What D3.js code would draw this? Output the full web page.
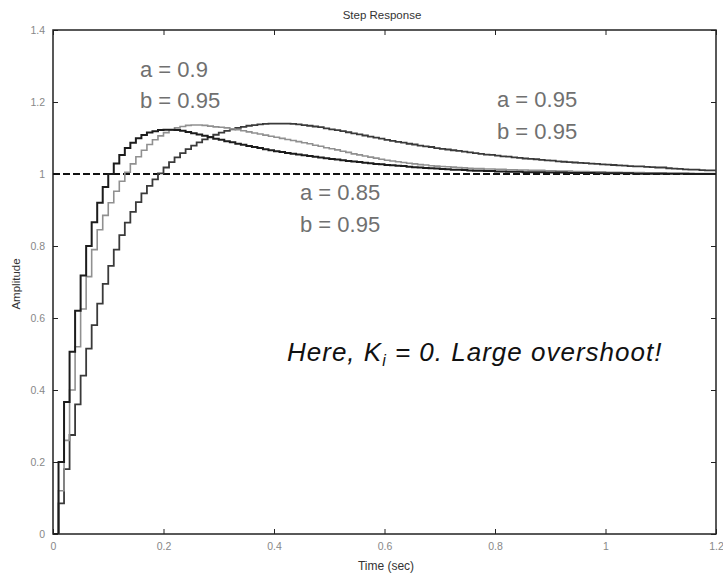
<!DOCTYPE html>
<html lang="en">
<head>
    <meta charset="UTF-8">
    <title>Step Response</title>
    <script src="https://d3js.org/d3.v7.js"></script>
    <style>
        body { margin: 0; background: #fff; }
        text { font-family: "Liberation Sans", Arial, sans-serif; }
        .tick text { fill: #888; font-size: 10.5px; }
        .tick line { stroke: #222; stroke-width: 1px; }
        .domain { display: none; }
        .note { fill: #707070; font-size: 22px; }
    </style>
</head>
<body>
<svg width="723" height="575"></svg>
<script>
    // sample time of the discrete responses (sec)
    const timeStep = 0.01;

    // a = 0.85, b = 0.95 (fastest, black)
    const respA085 = [
        0, 0.200, 0.367, 0.506, 0.620, 0.718, 0.800, 0.866, 0.920, 0.964,
        1.000, 1.029, 1.053, 1.072, 1.087, 1.099, 1.108, 1.115, 1.119, 1.122,
        1.123, 1.123, 1.122, 1.120, 1.117, 1.113, 1.110, 1.106, 1.102, 1.098,
        1.095, 1.091, 1.088, 1.084, 1.081, 1.078, 1.075, 1.072, 1.069, 1.066,
        1.063, 1.061, 1.058, 1.056, 1.054, 1.052, 1.050, 1.048, 1.046, 1.044,
        1.042, 1.040, 1.038, 1.036, 1.035, 1.033, 1.031, 1.030, 1.028, 1.027,
        1.025, 1.024, 1.023, 1.022, 1.020, 1.019, 1.018, 1.017, 1.016, 1.015,
        1.014, 1.013, 1.012, 1.012, 1.011, 1.010, 1.009, 1.009, 1.008, 1.008,
        1.007, 1.007, 1.006, 1.006, 1.006, 1.005, 1.005, 1.005, 1.005, 1.004,
        1.004, 1.004, 1.004, 1.003, 1.003, 1.003, 1.003, 1.003, 1.002, 1.002,
        1.002, 1.002, 1.002, 1.002, 1.002, 1.001, 1.001, 1.001, 1.001, 1.001,
        1.001, 1.001, 1.001, 1.001, 1.001, 1.000, 1.000, 1.000, 1.000, 1.000,
        1.000
    ];

    // a = 0.9, b = 0.95 (grey)
    const respA090 = [
        0, 0.120, 0.260, 0.400, 0.520, 0.625, 0.715, 0.790, 0.845, 0.885,
        0.920, 0.952, 0.980, 1.005, 1.028, 1.048, 1.066, 1.082, 1.095, 1.106,
        1.115, 1.122, 1.128, 1.132, 1.135, 1.136, 1.136, 1.135, 1.133, 1.131,
        1.130, 1.128, 1.125, 1.123, 1.120, 1.117, 1.114, 1.111, 1.108, 1.105,
        1.102, 1.099, 1.096, 1.093, 1.090, 1.087, 1.084, 1.080, 1.077, 1.073,
        1.070, 1.067, 1.063, 1.060, 1.056, 1.053, 1.050, 1.047, 1.044, 1.041,
        1.038, 1.036, 1.034, 1.032, 1.030, 1.028, 1.026, 1.025, 1.023, 1.022,
        1.021, 1.020, 1.019, 1.018, 1.017, 1.016, 1.015, 1.015, 1.014, 1.014,
        1.013, 1.013, 1.012, 1.012, 1.011, 1.011, 1.010, 1.010, 1.010, 1.009,
        1.009, 1.008, 1.008, 1.008, 1.007, 1.007, 1.007, 1.006, 1.006, 1.006,
        1.005, 1.005, 1.005, 1.004, 1.004, 1.004, 1.004, 1.003, 1.003, 1.003,
        1.003, 1.002, 1.002, 1.002, 1.002, 1.002, 1.001, 1.001, 1.001, 1.001,
        1.001
    ];

    // a = 0.95, b = 0.95 (slowest, dark)
    const respA095 = [
        0, 0.085, 0.180, 0.275, 0.360, 0.440, 0.515, 0.580, 0.640, 0.695,
        0.745, 0.790, 0.830, 0.865, 0.895, 0.922, 0.946, 0.967, 0.985, 1.002,
        1.018, 1.033, 1.046, 1.058, 1.069, 1.079, 1.088, 1.096, 1.103, 1.109,
        1.115, 1.120, 1.124, 1.128, 1.131, 1.134, 1.136, 1.138, 1.139, 1.140,
        1.140, 1.140, 1.140, 1.139, 1.138, 1.136, 1.134, 1.132, 1.130, 1.127,
        1.124, 1.122, 1.119, 1.116, 1.113, 1.110, 1.107, 1.104, 1.101, 1.098,
        1.095, 1.092, 1.089, 1.087, 1.084, 1.082, 1.079, 1.077, 1.075, 1.072,
        1.070, 1.068, 1.066, 1.064, 1.062, 1.060, 1.058, 1.056, 1.054, 1.053,
        1.051, 1.049, 1.048, 1.046, 1.045, 1.043, 1.042, 1.041, 1.039, 1.038,
        1.037, 1.035, 1.034, 1.033, 1.032, 1.031, 1.030, 1.029, 1.028, 1.027,
        1.026, 1.025, 1.024, 1.023, 1.022, 1.021, 1.021, 1.020, 1.019, 1.018,
        1.018, 1.016, 1.015, 1.014, 1.013, 1.012, 1.012, 1.011, 1.010, 1.010,
        1.009
    ];

    const referenceLevel = 1;
    const xTicks = [0, 0.2, 0.4, 0.6, 0.8, 1, 1.2];
    const yTicks = [0, 0.2, 0.4, 0.6, 0.8, 1, 1.2, 1.4];

    let svg = d3.select("svg");
    let plotLeft = 53, plotRight = 716, plotTop = 30, plotBottom = 534;

    let x = d3.scaleLinear().domain([0, 1.2]).range([plotLeft, plotRight]);
    let y = d3.scaleLinear().domain([0, 1.4]).range([plotBottom, plotTop]);

    svg.append("clipPath").attr("id", "plotClip")
        .append("rect")
        .attr("x", plotLeft).attr("y", plotTop)
        .attr("width", plotRight - plotLeft).attr("height", plotBottom - plotTop);

    // axes: ticks point inwards on all four sides
    svg.append("g")
        .attr("transform", "translate(0," + plotBottom + ")")
        .call(d3.axisBottom(x).tickValues(xTicks).tickSize(-5).tickPadding(9)
            .tickFormat(d3.format("~g")));
    svg.append("g")
        .attr("transform", "translate(0," + plotTop + ")")
        .call(d3.axisTop(x).tickValues(xTicks).tickSize(-5).tickFormat(""));
    svg.append("g")
        .attr("transform", "translate(" + plotLeft + ",0)")
        .call(d3.axisLeft(y).tickValues(yTicks).tickSize(-5).tickPadding(8)
            .tickFormat(d3.format("~g")));
    svg.append("g")
        .attr("transform", "translate(" + plotRight + ",0)")
        .call(d3.axisRight(y).tickValues(yTicks).tickSize(-5).tickFormat(""));

    // frame
    svg.append("rect")
        .attr("x", plotLeft).attr("y", plotTop)
        .attr("width", plotRight - plotLeft).attr("height", plotBottom - plotTop)
        .attr("fill", "none").attr("stroke", "#222").attr("stroke-width", 1.5);

    let plot = svg.append("g").attr("clip-path", "url(#plotClip)");

    // dashed reference line at 1
    plot.append("line")
        .attr("x1", x(0)).attr("x2", x(1.2))
        .attr("y1", y(referenceLevel)).attr("y2", y(referenceLevel))
        .attr("stroke", "#111").attr("stroke-width", 2)
        .attr("stroke-dasharray", "7,3");

    let stairs = d3.line()
        .x((d, i) => x(i * timeStep))
        .y(d => y(d))
        .curve(d3.curveStepAfter);

    let series = [
        {values: respA095, color: "#3a3a3a", width: 1.8},
        {values: respA090, color: "#909090", width: 1.6},
        {values: respA085, color: "#1c1c1c", width: 2}
    ];

    plot.selectAll(".resp")
        .data(series)
        .join("path")
        .classed("resp", true)
        .attr("fill", "none")
        .attr("stroke", d => d.color)
        .attr("stroke-width", d => d.width)
        .attr("d", d => stairs(d.values));

    // titles
    svg.append("text")
        .attr("x", 382).attr("y", 19)
        .attr("text-anchor", "middle")
        .attr("font-size", 11.5).attr("fill", "#333")
        .text("Step Response");
    svg.append("text")
        .attr("x", 386).attr("y", 570)
        .attr("text-anchor", "middle")
        .attr("font-size", 12).attr("fill", "#333")
        .text("Time (sec)");
    svg.append("text")
        .attr("transform", "translate(20,284) rotate(-90)")
        .attr("text-anchor", "middle")
        .attr("font-size", 11.5).attr("fill", "#333")
        .text("Amplitude");

    // parameter notes
    let notes = [
        {x: 140, y: 77, t: "a = 0.9"},
        {x: 140, y: 108, t: "b = 0.95"},
        {x: 497, y: 107, t: "a = 0.95"},
        {x: 497, y: 139, t: "b = 0.95"},
        {x: 300, y: 200, t: "a = 0.85"},
        {x: 300, y: 232, t: "b = 0.95"}
    ];
    svg.selectAll(".note")
        .data(notes)
        .join("text")
        .classed("note", true)
        .attr("x", d => d.x).attr("y", d => d.y)
        .text(d => d.t);

    let remark = svg.append("text")
        .attr("x", 287).attr("y", 361)
        .attr("font-size", 26).attr("font-style", "italic")
        .attr("letter-spacing", 1)
        .attr("fill", "#111");
    remark.append("tspan").text("Here, K");
    remark.append("tspan").attr("font-size", 16).attr("dy", 5).text("i");
    remark.append("tspan").attr("dy", -5).text(" = 0. Large overshoot!");
</script>
</body>
</html>
